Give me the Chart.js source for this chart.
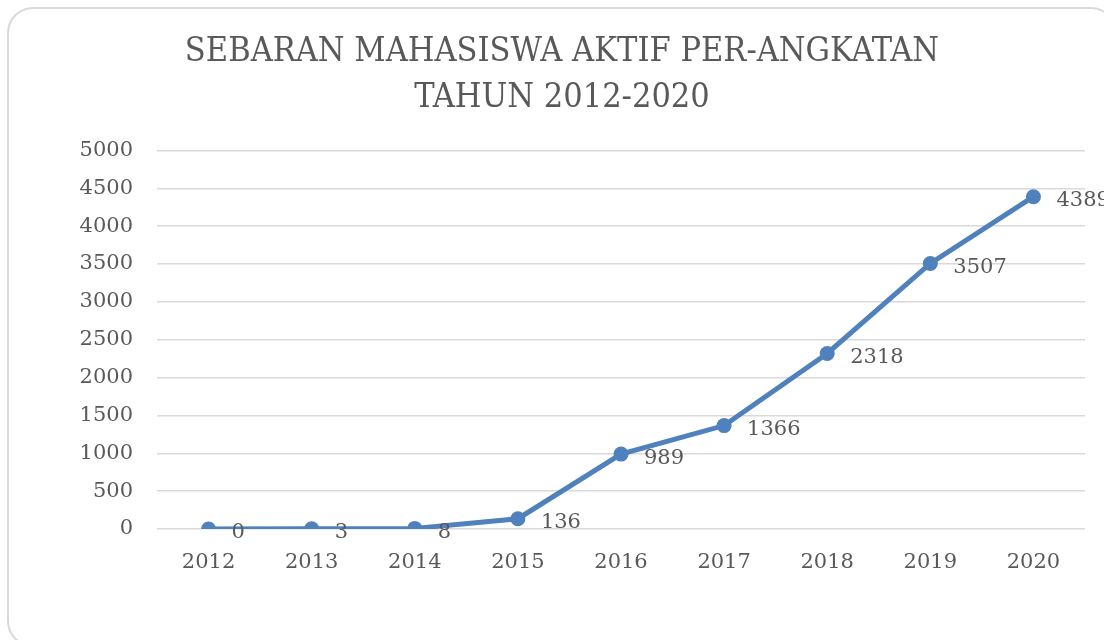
<!DOCTYPE html>
<html>
<head>
<meta charset="utf-8">
<script src="https://cdn.jsdelivr.net/npm/chart.js@4"></script>
<style>
  html, body { margin: 0; padding: 0; background: #fff; overflow: hidden; }
  .frame {
    position: absolute; left: 7px; top: 7px;
    width: 1110px; height: 640px;
    border: 2px solid #d9d9d9; border-radius: 26px;
    box-sizing: border-box;
  }
  #wrap { position: absolute; left: 0; top: 0; width: 1104px; height: 640px; }
</style>
</head>
<body>
<div class="frame"></div>
<div id="wrap"><canvas id="angkatan-chart"></canvas></div>
<script>
const years = ["2012", "2013", "2014", "2015", "2016", "2017", "2018", "2019", "2020"];
const mahasiswaAktif = [0, 3, 8, 136, 989, 1366, 2318, 3507, 4389];
const titleLines = ["SEBARAN MAHASISWA AKTIF PER-ANGKATAN", "TAHUN 2012-2020"];

const textColor = "#595959";
const lineColor = "#4f81bd";

//value labels to the right of each point
const pointLabels = {
  id: "pointLabels",
  afterDatasetsDraw(chart) {
    const ctx = chart.ctx;
    const meta = chart.getDatasetMeta(0);
    ctx.save();
    ctx.font = "21px 'DejaVu Serif'";
    ctx.fillStyle = textColor;
    ctx.textAlign = "left";
    ctx.textBaseline = "middle";
    meta.data.forEach((pt, i) => {
      ctx.fillText(String(mahasiswaAktif[i]), pt.x + 23, pt.y + 4);
    });
    ctx.restore();
  },
};

const ctx = document.getElementById("angkatan-chart").getContext("2d");

new Chart(ctx, {
  type: "line",
  data: {
    labels: years,
    datasets: [
      {
        data: mahasiswaAktif,
        borderColor: lineColor,
        backgroundColor: lineColor,
        borderWidth: 5,
        pointRadius: 7.5,
        pointHoverRadius: 7.5,
        pointBorderWidth: 0,
        tension: 0,
      },
    ],
  },
  options: {
    responsive: true,
    maintainAspectRatio: false,
    animation: false,
    layout: { padding: { left: 20, right: 0, top: 0, bottom: 0 } },
    plugins: {
      legend: { display: false },
      tooltip: { enabled: false },
      title: {
        display: true,
        text: titleLines,
        color: textColor,
        font: { family: "'DejaVu Serif Condensed'", size: 34, weight: "normal", lineHeight: 1.33 },
        padding: { top: 30, bottom: 30 },
      },
    },
    scales: {
      x: {
        offset: true,
        grid: { display: false },
        border: { display: false },
        ticks: {
          color: textColor,
          padding: 13,
          font: { family: "'DejaVu Serif'", size: 21 },
          maxRotation: 0,
        },
        afterFit(scale) {
          scale.height = 111;
        },
      },
      y: {
        min: 0,
        max: 5000,
        border: { display: false },
        grid: { color: "#d9d9d9", lineWidth: 1.5, drawTicks: false },
        ticks: {
          stepSize: 500,
          color: textColor,
          padding: 24,
          font: { family: "'DejaVu Serif'", size: 21 },
          callback: (v) => String(v),
        },
        afterFit(scale) {
          scale.width = 137;
        },
      },
      // empty right-hand strip so the plot ends where the reference does
      yRight: {
        position: "right",
        display: true,
        grid: { display: false },
        border: { display: false },
        ticks: { display: false },
        afterFit(scale) {
          scale.width = 19;
        },
      },
    },
  },
  plugins: [pointLabels],
});
</script>
</body>
</html>
